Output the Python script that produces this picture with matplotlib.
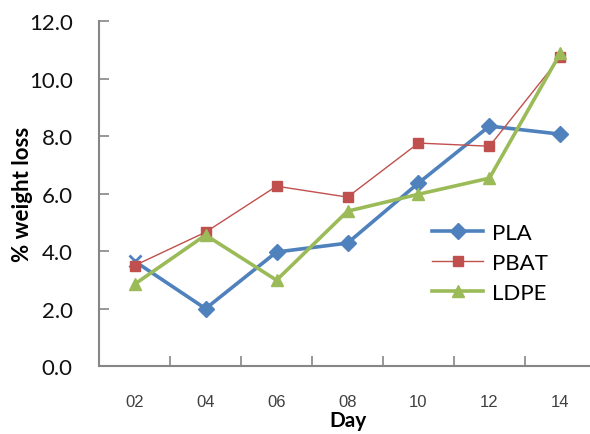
import matplotlib.pyplot as plt

days = ["02", "04", "06", "08", "10", "12", "14"]
pla = [3.65, 2.0, 3.97, 4.28, 6.37, 8.35, 8.07]
pbat = [3.5, 4.66, 6.26, 5.88, 7.76, 7.65, 10.75]
ldpe = [2.85, 4.56, 2.99, 5.39, 5.98, 6.54, 10.89]

fig = plt.figure(figsize=(5.9, 4.35), dpi=100)
ax = fig.add_axes([0.168, 0.156, 0.842, 0.793])

x = range(len(days))
ax.plot(x, pla, color="#4F81BD", lw=2.6, marker="D", ms=8, markevery=list(range(1, 7)), label="PLA", zorder=2)
ax.plot(x[:1], pla[:1], color="#4F81BD", marker="x", ms=9, mew=2, ls="none", zorder=2)
ax.plot(x, pbat, color="#C0504D", lw=1, marker="s", ms=6.5, label="PBAT", zorder=3)
ax.plot(x, ldpe, color="#9BBB59", lw=2.6, marker="^", ms=9, label="LDPE", zorder=4)

ax.set_xlim(-0.5, 6.5)
ax.set_ylim(0, 12)
ax.set_yticks([0, 2, 4, 6, 8, 10, 12])
ax.set_yticklabels([f"{v:.1f}" for v in [0, 2, 4, 6, 8, 10, 12]], family="Lato", fontsize=16, color="#111111")
ax.set_xticks([i + 0.5 for i in range(6)])
ax.set_xticks(list(x), minor=True)
ax.set_xticklabels([])
ax.set_xticklabels(days, minor=True, family="Liberation Sans", fontsize=12, color="#404040")
ax.tick_params(axis="x", which="major", direction="in", length=7, color="#868686", width=1.2)
ax.tick_params(axis="x", which="minor", length=0, pad=20)
ax.tick_params(axis="y", direction="in", length=7, color="#868686", width=1.2, pad=19)

for s in ["top", "right"]:
    ax.spines[s].set_visible(False)
for s in ["left", "bottom"]:
    ax.spines[s].set_color("#868686")
    ax.spines[s].set_linewidth(1.5)

ax.set_ylabel("% weight loss", family="Lato", fontweight="bold", fontsize=16, labelpad=-3)
ax.set_xlabel("Day", family="Lato", fontweight="bold", fontsize=15, labelpad=1)

ax.legend(loc="center left", bbox_to_anchor=(0.63, 0.3), frameon=False,
          prop={"family": "Lato", "size": 16}, handlelength=2.3, handletextpad=0.4,
          labelspacing=0.45)

fig.savefig("out.png")
